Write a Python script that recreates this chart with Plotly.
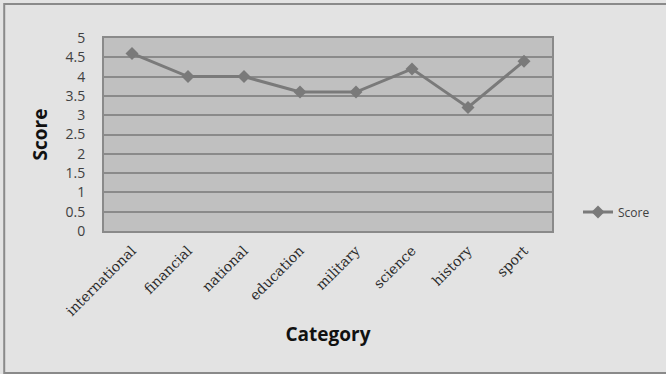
import plotly.graph_objects as go

categories = ["international", "financial", "national", "education", "military", "science", "history", "sport"]
scores = [4.6, 4.0, 4.0, 3.6, 3.6, 4.2, 3.2, 4.4]
y_ticks = [0, 0.5, 1, 1.5, 2, 2.5, 3, 3.5, 4, 4.5, 5]
y_tick_text = ["0", "0.5", "1", "1.5", "2", "2.5", "3", "3.5", "4", "4.5", "5"]

W, H = 666, 374
L, R, T, B = 104, 553, 38, 231
pw, ph = R - L, B - T

def px(x):
    return (x - L) / pw

def py(y):
    return (B - y) / ph

fig = go.Figure()
fig.add_trace(go.Scatter(
    x=categories, y=scores, mode="lines+markers", name="Score",
    line=dict(color="#7a7a7a", width=3),
    marker=dict(symbol="diamond", size=10, color="#7a7a7a"),
))

fig.update_layout(
    width=W, height=H,
    margin=dict(l=L, r=W - R, t=T, b=H - B),
    paper_bgcolor="#e3e3e3",
    plot_bgcolor="#c0c0c0",
    font=dict(family="Open Sans", color="#404040"),
    showlegend=True,
    legend=dict(x=px(578), y=py(212), xanchor="left", yanchor="middle",
                bgcolor="rgba(0,0,0,0)", font=dict(size=12, family="Open Sans", color="#404040"),
                itemwidth=30),
    xaxis=dict(
        type="category", tickangle=-45, showgrid=False, zeroline=False,
        tickfont=dict(family="DejaVu Serif", size=14, color="#2a2a2a"),
        showline=True, linecolor="#8a8a8a", linewidth=2, mirror=True,
        ticks="", ticklabelstandoff=4, range=[-0.5, len(categories) - 0.5],
        title=dict(text="<b>Category</b>", font=dict(size=19, family="Open Sans", color="#111111"), standoff=10),
    ),
    yaxis=dict(
        range=[0, 5], tickvals=y_ticks, ticktext=y_tick_text,
        showgrid=True, gridcolor="#8a8a8a", gridwidth=2, zeroline=False,
        showline=True, linecolor="#8a8a8a", linewidth=2, mirror=True,
        tickfont=dict(family="Open Sans", size=14, color="#404040"),
        ticklabelstandoff=14,
        title=dict(text="<b>Score</b>", font=dict(size=19, family="Open Sans", color="#111111"), standoff=13),
    ),
    shapes=[dict(type="rect", xref="paper", yref="paper",
                 x0=px(4), x1=px(680), y0=py(373), y1=py(4),
                 line=dict(color="#8a8a8a", width=2), layer="below")],
)

fig.write_html("out.html")
